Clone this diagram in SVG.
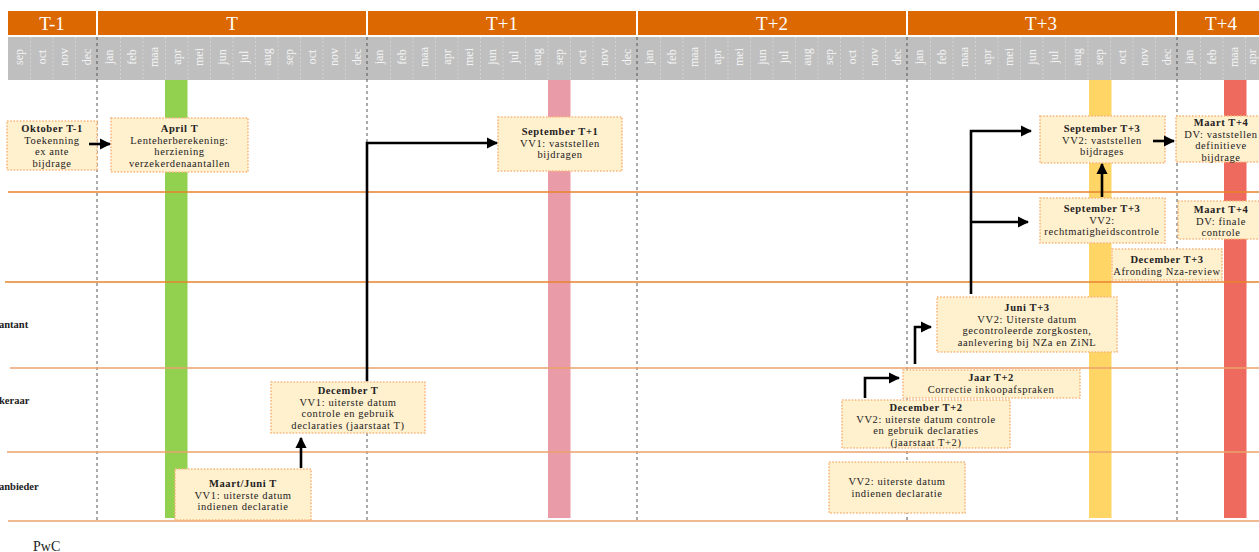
<svg xmlns="http://www.w3.org/2000/svg" width="1259" height="552" viewBox="0 0 1259 552">
<defs>
<marker id="ah" viewBox="0 0 10 10" refX="9" refY="5" markerWidth="4.4" markerHeight="4.4" orient="auto" markerUnits="strokeWidth">
<path d="M0,0 L10,5 L0,10 z" fill="#000"/>
</marker>
<style>
.yr{fill:#DB6800}
.yt{fill:#fff;font-family:"Liberation Serif",serif;font-size:19px;text-anchor:middle}
.mo{fill:#F4F4F4;font-family:"Liberation Serif",serif;font-size:12px;text-anchor:middle}
.msep{stroke:#D8D8D8;stroke-width:0.8;stroke-dasharray:2,2}
.ydiv{stroke:#555;stroke-width:1;stroke-dasharray:3,3}
.lane1{stroke:#E8842C;stroke-width:1.3}
.lane2{stroke:#EBA36C;stroke-width:1.3}
.box{fill:#FFF0CE;stroke:#F8B77C;stroke-width:1.6;stroke-dasharray:1.6,1.6}
.bt{font-family:"Liberation Serif",serif;font-size:10.5px;fill:#222;text-anchor:middle;letter-spacing:0.6px}
.bt .h{font-weight:bold}
.conn{fill:none;stroke:#000;stroke-width:2.6;marker-end:url(#ah)}
.ll{font-family:"Liberation Serif",serif;font-size:10.5px;font-weight:bold;fill:#222}
</style>
</defs>
<rect width="1259" height="552" fill="#fff"/>

<g id="header">
<rect class="yr" x="8" y="11" width="88" height="24"/>
<rect class="yr" x="98" y="11" width="268" height="24"/>
<rect class="yr" x="368" y="11" width="268" height="24"/>
<rect class="yr" x="638" y="11" width="268" height="24"/>
<rect class="yr" x="908" y="11" width="267" height="24"/>
<rect class="yr" x="1177" y="11" width="90" height="24"/>
<text class="yt" x="52" y="30">T-1</text>
<text class="yt" x="232" y="30">T</text>
<text class="yt" x="502" y="30">T+1</text>
<text class="yt" x="772" y="30">T+2</text>
<text class="yt" x="1041" y="30">T+3</text>
<text class="yt" x="1221" y="30">T+4</text>
<rect x="8" y="37" width="1251" height="43" fill="#BFBFBF"/>
<g id="months">
<path class="msep" d="M30.5,37V80M53,37V80M75.5,37V80M120.5,37V80M143,37V80M165.5,37V80M188,37V80M210.5,37V80M233,37V80M255.5,37V80M278,37V80M300.5,37V80M323,37V80M345.5,37V80M390.5,37V80M413,37V80M435.5,37V80M458,37V80M480.5,37V80M503,37V80M525.5,37V80M548,37V80M570.5,37V80M593,37V80M615.5,37V80M660.5,37V80M683,37V80M705.5,37V80M728,37V80M750.5,37V80M773,37V80M795.5,37V80M818,37V80M840.5,37V80M863,37V80M885.5,37V80M930.5,37V80M953,37V80M975.5,37V80M998,37V80M1020.5,37V80M1043,37V80M1065.5,37V80M1088,37V80M1110.5,37V80M1133,37V80M1155.5,37V80M1200.5,37V80M1223,37V80M1245.5,37V80"/>
<text class="mo" transform="translate(23,57) rotate(-90)">sep</text>
<text class="mo" transform="translate(45.5,57) rotate(-90)">oct</text>
<text class="mo" transform="translate(68,57) rotate(-90)">nov</text>
<text class="mo" transform="translate(90.5,57) rotate(-90)">dec</text>
<text class="mo" transform="translate(113,57) rotate(-90)">jan</text>
<text class="mo" transform="translate(135.5,57) rotate(-90)">feb</text>
<text class="mo" transform="translate(158,57) rotate(-90)">maa</text>
<text class="mo" transform="translate(180.5,57) rotate(-90)">apr</text>
<text class="mo" transform="translate(203,57) rotate(-90)">mei</text>
<text class="mo" transform="translate(225.5,57) rotate(-90)">jun</text>
<text class="mo" transform="translate(248,57) rotate(-90)">jul</text>
<text class="mo" transform="translate(270.5,57) rotate(-90)">aug</text>
<text class="mo" transform="translate(293,57) rotate(-90)">sep</text>
<text class="mo" transform="translate(315.5,57) rotate(-90)">oct</text>
<text class="mo" transform="translate(338,57) rotate(-90)">nov</text>
<text class="mo" transform="translate(360.5,57) rotate(-90)">dec</text>
<text class="mo" transform="translate(383,57) rotate(-90)">jan</text>
<text class="mo" transform="translate(405.5,57) rotate(-90)">feb</text>
<text class="mo" transform="translate(428,57) rotate(-90)">maa</text>
<text class="mo" transform="translate(450.5,57) rotate(-90)">apr</text>
<text class="mo" transform="translate(473,57) rotate(-90)">mei</text>
<text class="mo" transform="translate(495.5,57) rotate(-90)">jun</text>
<text class="mo" transform="translate(518,57) rotate(-90)">jul</text>
<text class="mo" transform="translate(540.5,57) rotate(-90)">aug</text>
<text class="mo" transform="translate(563,57) rotate(-90)">sep</text>
<text class="mo" transform="translate(585.5,57) rotate(-90)">oct</text>
<text class="mo" transform="translate(608,57) rotate(-90)">nov</text>
<text class="mo" transform="translate(630.5,57) rotate(-90)">dec</text>
<text class="mo" transform="translate(653,57) rotate(-90)">jan</text>
<text class="mo" transform="translate(675.5,57) rotate(-90)">feb</text>
<text class="mo" transform="translate(698,57) rotate(-90)">maa</text>
<text class="mo" transform="translate(720.5,57) rotate(-90)">apr</text>
<text class="mo" transform="translate(743,57) rotate(-90)">mei</text>
<text class="mo" transform="translate(765.5,57) rotate(-90)">jun</text>
<text class="mo" transform="translate(788,57) rotate(-90)">jul</text>
<text class="mo" transform="translate(810.5,57) rotate(-90)">aug</text>
<text class="mo" transform="translate(833,57) rotate(-90)">sep</text>
<text class="mo" transform="translate(855.5,57) rotate(-90)">oct</text>
<text class="mo" transform="translate(878,57) rotate(-90)">nov</text>
<text class="mo" transform="translate(900.5,57) rotate(-90)">dec</text>
<text class="mo" transform="translate(923,57) rotate(-90)">jan</text>
<text class="mo" transform="translate(945.5,57) rotate(-90)">feb</text>
<text class="mo" transform="translate(968,57) rotate(-90)">maa</text>
<text class="mo" transform="translate(990.5,57) rotate(-90)">apr</text>
<text class="mo" transform="translate(1013,57) rotate(-90)">mei</text>
<text class="mo" transform="translate(1035.5,57) rotate(-90)">jun</text>
<text class="mo" transform="translate(1058,57) rotate(-90)">jul</text>
<text class="mo" transform="translate(1080.5,57) rotate(-90)">aug</text>
<text class="mo" transform="translate(1103,57) rotate(-90)">sep</text>
<text class="mo" transform="translate(1125.5,57) rotate(-90)">oct</text>
<text class="mo" transform="translate(1148,57) rotate(-90)">nov</text>
<text class="mo" transform="translate(1170.5,57) rotate(-90)">dec</text>
<text class="mo" transform="translate(1193,57) rotate(-90)">jan</text>
<text class="mo" transform="translate(1215.5,57) rotate(-90)">feb</text>
<text class="mo" transform="translate(1238,57) rotate(-90)">maa</text>
<text class="mo" transform="translate(1256,57) rotate(-90)">apr</text>
</g>
</g>

<g id="bars">
<rect x="165" y="80" width="22.5" height="438" fill="#92D050"/>
<rect x="548" y="80" width="22.5" height="438" fill="#E99BA7"/>
<rect x="1089" y="80" width="22.5" height="438" fill="#FFD566"/>
<rect x="1224" y="80" width="22.5" height="438" fill="#EE695E"/>
</g>

<g id="grid">
<path class="ydiv" d="M97,37V520M367,37V520M637,37V520M907,37V520M1177,37V520"/>
<path class="lane1" d="M8,192H1259M5,282H1259"/>
<path class="lane2" d="M10,368H1259M7,452H1259M8,521H1259"/>
</g>

<g id="lanes">
<text class="ll" x="-1" y="328">antant</text>
<text class="ll" x="-1" y="404">keraar</text>
<text class="ll" x="-1" y="490">anbieder</text>
</g>

<g id="n1"><rect class="box" x="7" y="121" width="90" height="49"/>
<text class="bt" x="52" y="132"><tspan class="h">Oktober T-1</tspan><tspan x="52" dy="11.5">Toekenning</tspan><tspan x="52" dy="11.5">ex ante</tspan><tspan x="52" dy="11.5">bijdrage</tspan></text></g>

<g id="n2"><rect class="box" x="111" y="118" width="137" height="54"/>
<text class="bt" x="179.5" y="132"><tspan class="h">April T</tspan><tspan x="179.5" dy="11.5">Lenteherberekening:</tspan><tspan x="179.5" dy="11.5">herziening</tspan><tspan x="179.5" dy="11.5">verzekerdenaantallen</tspan></text></g>

<g id="n3"><rect class="box" x="498" y="117" width="124" height="54"/>
<text class="bt" x="560" y="135"><tspan class="h">September T+1</tspan><tspan x="560" dy="11.5">VV1: vaststellen</tspan><tspan x="560" dy="11.5">bijdragen</tspan></text></g>

<g id="n4"><rect class="box" x="1040" y="116" width="125" height="47"/>
<text class="bt" x="1102" y="132"><tspan class="h">September T+3</tspan><tspan x="1102" dy="11.5">VV2: vaststellen</tspan><tspan x="1102" dy="11.5">bijdrages</tspan></text></g>

<g id="n5"><rect class="box" x="1176" y="116" width="90" height="46"/>
<text class="bt" x="1221" y="126"><tspan class="h">Maart T+4</tspan><tspan x="1221" dy="11.5">DV: vaststellen</tspan><tspan x="1221" dy="11.5">definitieve</tspan><tspan x="1221" dy="11.5">bijdrage</tspan></text></g>

<g id="n6"><rect class="box" x="1040" y="198" width="125" height="45"/>
<text class="bt" x="1102" y="212"><tspan class="h">September T+3</tspan><tspan x="1102" dy="11.5">VV2:</tspan><tspan x="1102" dy="11.5">rechtmatigheidscontrole</tspan></text></g>

<g id="n7"><rect class="box" x="1178" y="201" width="90" height="38"/>
<text class="bt" x="1221" y="213"><tspan class="h">Maart T+4</tspan><tspan x="1221" dy="11.5">DV: finale</tspan><tspan x="1221" dy="11.5">controle</tspan></text></g>

<g id="n8"><rect class="box" x="1112" y="249" width="110" height="31"/>
<text class="bt" x="1167" y="263"><tspan class="h">December T+3</tspan><tspan x="1167" dy="11.5">Afronding Nza-review</tspan></text></g>

<g id="n9"><rect class="box" x="937" y="297" width="180" height="55"/>
<text class="bt" x="1027" y="311"><tspan class="h">Juni T+3</tspan><tspan x="1027" dy="11.5">VV2: Uiterste datum</tspan><tspan x="1027" dy="11.5">gecontroleerde zorgkosten,</tspan><tspan x="1027" dy="11.5">aanlevering bij NZa en ZiNL</tspan></text></g>

<g id="n10"><rect class="box" x="903" y="370" width="177" height="28"/>
<text class="bt" x="991" y="381"><tspan class="h">Jaar T+2</tspan><tspan x="991" dy="11.5">Correctie inkoopafspraken</tspan></text></g>

<g id="n11"><rect class="box" x="842" y="400" width="168" height="48"/>
<text class="bt" x="926" y="411"><tspan class="h">December T+2</tspan><tspan x="926" dy="11.5">VV2: uiterste datum controle</tspan><tspan x="926" dy="11.5">en gebruik declaraties</tspan><tspan x="926" dy="11.5">(jaarstaat T+2)</tspan></text></g>

<g id="n12"><rect class="box" x="829" y="462" width="136" height="51"/>
<text class="bt" x="897" y="485"><tspan>VV2: uiterste datum</tspan><tspan x="897" dy="11.5">indienen declaratie</tspan></text></g>

<g id="n13"><rect class="box" x="271" y="382" width="154" height="51"/>
<text class="bt" x="348" y="394"><tspan class="h">December T</tspan><tspan x="348" dy="11.5">VV1: uiterste datum</tspan><tspan x="348" dy="11.5">controle en gebruik</tspan><tspan x="348" dy="11.5">declaraties (jaarstaat T)</tspan></text></g>

<g id="n14"><rect class="box" x="175" y="469" width="136" height="51"/>
<text class="bt" x="243" y="487"><tspan class="h">Maart/Juni T</tspan><tspan x="243" dy="11.5">VV1: uiterste datum</tspan><tspan x="243" dy="11.5">indienen declaratie</tspan></text></g>

<g id="connectors">
<path class="conn" d="M89,144H110"/>
<path class="conn" d="M367,381V143H497"/>
<path class="conn" d="M301,468V438"/>
<path class="conn" d="M865,398V378H899"/>
<path class="conn" d="M915,364V327H931"/>
<path class="conn" d="M971,294V131H1031"/>
<path class="conn" d="M971,222H1028"/>
<path class="conn" d="M1102,197V164"/>
<path class="conn" d="M1153,141H1174"/>
</g>

<text x="33" y="551" font-family="Liberation Serif, serif" font-size="14" fill="#222">PwC</text>
</svg>
